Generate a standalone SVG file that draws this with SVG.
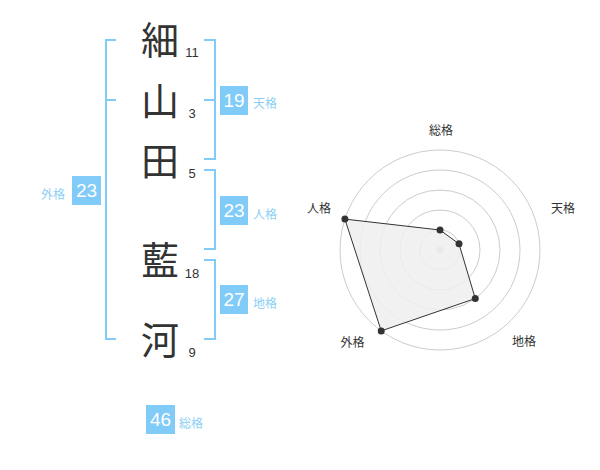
<svg xmlns="http://www.w3.org/2000/svg" width="600" height="470" viewBox="0 0 600 470">
<style>
.kanji{font-family:"Noto Sans CJK JP","Noto Sans",sans-serif;font-size:38px;fill:#333;text-anchor:middle}
.num{font-family:"Liberation Sans",Arial,sans-serif;font-size:13px;fill:#333;text-anchor:middle}
.br{fill:none;stroke:#80cbf7;stroke-width:2}
.badge{fill:#80cbf7}
.bt{font-family:"Liberation Sans",Arial,sans-serif;font-size:19px;fill:#fff;text-anchor:middle}
.lb{font-family:"Noto Sans CJK JP",sans-serif;font-size:12px;fill:#8ccff5}
.ring{fill:none;stroke:#cccccc;stroke-width:1}
.rl{font-family:"Noto Sans CJK JP",sans-serif;font-size:12px;fill:#333;text-anchor:middle}
.pt{fill:#333}
</style>
<rect width="600" height="470" fill="#fff"/>
<g id="name">
<text class="kanji" x="160" y="54">細</text>
<text class="kanji" x="160" y="115">山</text>
<text class="kanji" x="160" y="175">田</text>
<text class="kanji" x="160" y="274">藍</text>
<text class="kanji" x="160" y="354">河</text>
<text class="num" x="192" y="57">11</text>
<text class="num" x="192" y="118">3</text>
<text class="num" x="192" y="178">5</text>
<text class="num" x="192" y="278">18</text>
<text class="num" x="192" y="357">9</text>
</g>
<g id="connectors">
<path class="br" d="M116,40 H106 V339 H116 M106,100 H116"/>
<path class="br" d="M204,40 H215 V159 H204 M215,100 H204"/>
<path class="br" d="M204,170 H215 V249 H204"/>
<path class="br" d="M204,260 H215 V339 H204"/>
</g>
<g id="tenkaku">
<rect class="badge" x="220" y="86" width="28" height="29"/>
<text class="bt" x="234" y="107">19</text>
<text class="lb" x="253" y="108">天格</text>
</g>
<g id="jinkaku">
<rect class="badge" x="220" y="196" width="28" height="29"/>
<text class="bt" x="234" y="217">23</text>
<text class="lb" x="253" y="219">人格</text>
</g>
<g id="chikaku">
<rect class="badge" x="220" y="285" width="28" height="29"/>
<text class="bt" x="234" y="306">27</text>
<text class="lb" x="253" y="308">地格</text>
</g>
<g id="gaikaku">
<rect class="badge" x="72" y="176" width="29" height="29"/>
<text class="bt" x="86.5" y="197">23</text>
<text class="lb" x="41" y="199">外格</text>
</g>
<g id="soukaku">
<rect class="badge" x="146" y="405" width="29" height="29"/>
<text class="bt" x="160.5" y="426">46</text>
<text class="lb" x="179" y="428">総格</text>
</g>
<g id="radar">
<circle class="ring" cx="440" cy="250" r="20"/>
<circle class="ring" cx="440" cy="250" r="40"/>
<circle class="ring" cx="440" cy="250" r="60"/>
<circle class="ring" cx="440" cy="250" r="80"/>
<circle class="ring" cx="440" cy="250" r="100"/>
<circle cx="440" cy="250" r="3.5" fill="#ccc"/>
<polygon points="440,230 459.02,243.82 475.27,298.54 381.22,330.9 344.89,219.1" fill="#efefef" fill-opacity="0.85" stroke="#333" stroke-width="1"/>
<circle class="pt" cx="440" cy="230" r="3.5"/>
<circle class="pt" cx="459.02" cy="243.82" r="3.5"/>
<circle class="pt" cx="475.27" cy="298.54" r="3.5"/>
<circle class="pt" cx="381.22" cy="330.9" r="3.5"/>
<circle class="pt" cx="344.89" cy="219.1" r="3.5"/>
<text class="rl" x="441" y="135">総格</text>
<text class="rl" x="563" y="213">天格</text>
<text class="rl" x="319" y="213">人格</text>
<text class="rl" x="524" y="346">地格</text>
<text class="rl" x="352.5" y="346.5">外格</text>
</g>
</svg>
